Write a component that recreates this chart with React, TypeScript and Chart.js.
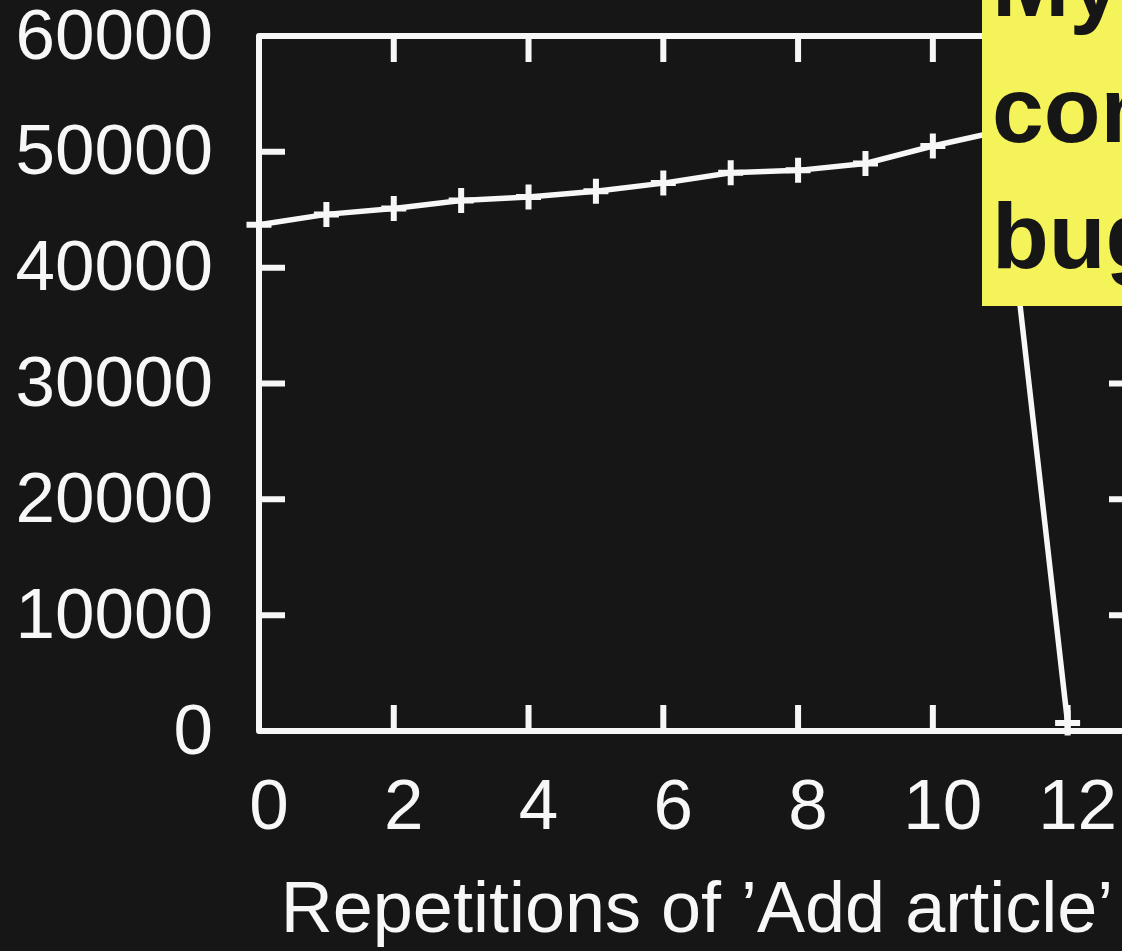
import React, { useEffect, useRef } from 'react';
import { Chart, registerables } from 'chart.js';

Chart.register(...registerables);

// ---- data ----
const repetitions = [0, 1, 2, 3, 4, 5, 6, 7, 8, 9, 10, 11, 12];
const memoryValues = [43700, 44600, 45100, 45800, 46100, 46600, 47300, 48200, 48400, 49000, 50500, 51800, 700];
const xAxisTitle = 'Repetitions of \u2019Add article\u2019';
const noteLines = ['My code', 'contains a', 'bug'];

// ---- style ----
const BG = '#161616';
const FG = '#f7f7f7';
const NOTE_BG = '#f5f35a';
const FONT = '"Liberation Sans", Arial, Helvetica, sans-serif';
const CW = 1300;
const CH = 951;
const PLOT_LEFT = 259;
const PLOT_TOP = 36;
const PLOT_RIGHT = 1135;
const PLOT_BOTTOM = 731;
const TICK = 26;
const LW = 6;

const framePlugin = {
  id: 'gnuframe',
  beforeDraw(chart: any) {
    const { ctx } = chart;
    ctx.save();
    ctx.fillStyle = BG;
    ctx.fillRect(0, 0, chart.width, chart.height);
    ctx.restore();
  },
  beforeDatasetsDraw(chart: any) {
    const { ctx, chartArea: a, scales } = chart;
    const xs = scales.x;
    const ys = scales.y;
    ctx.save();
    ctx.strokeStyle = FG;
    ctx.lineWidth = LW;
    ctx.lineJoin = 'round';
    ctx.lineCap = 'butt';
    ctx.strokeRect(a.left, a.top, a.right - a.left, a.bottom - a.top);
    ctx.beginPath();
    for (const t of ys.ticks) {
      const py = ys.getPixelForValue(t.value);
      ctx.moveTo(a.left, py);
      ctx.lineTo(a.left + TICK, py);
      ctx.moveTo(a.right - TICK, py);
      ctx.lineTo(a.right, py);
    }
    for (const t of xs.ticks) {
      const px = xs.getPixelForValue(t.value);
      ctx.moveTo(px, a.bottom);
      ctx.lineTo(px, a.bottom - TICK);
      ctx.moveTo(px, a.top);
      ctx.lineTo(px, a.top + TICK);
    }
    ctx.stroke();
    ctx.restore();
  },
  afterDatasetsDraw(chart: any) {
    const { ctx } = chart;
    ctx.save();
    ctx.fillStyle = NOTE_BG;
    ctx.fillRect(982, -10, chart.width - 982 + 10, 306 + 10);
    ctx.fillStyle = BG;
    ctx.font = `bold 93px ${FONT}`;
    ctx.textAlign = 'left';
    ctx.textBaseline = 'alphabetic';
    noteLines.forEach((t, i) => ctx.fillText(t, 992, 16 + i * 126));
    ctx.restore();
  },
};

export default function App() {
  const ref = useRef<HTMLCanvasElement | null>(null);
  useEffect(() => {
    if (!ref.current) return;
    const chart = new Chart(ref.current, {
      type: 'line',
      data: {
        datasets: [
          {
            data: repetitions.map((r, i) => ({ x: r, y: memoryValues[i] })),
            borderColor: FG,
            borderWidth: 5.5,
            pointStyle: 'cross',
            pointRadius: 12.5,
            pointBorderWidth: 6,
            pointBorderColor: FG,
            pointBackgroundColor: FG,
            tension: 0,
            clip: false as any,
          } as any,
        ],
      },
      options: {
        responsive: false,
        animation: false,
        devicePixelRatio: 1,
        events: [],
        layout: { padding: { left: 0, top: PLOT_TOP, right: CW - PLOT_RIGHT, bottom: 0 } },
        plugins: { legend: { display: false }, tooltip: { enabled: false } },
        scales: {
          x: {
            type: 'linear',
            min: 0,
            max: 13,
            grid: { display: false },
            border: { display: false },
            ticks: {
              stepSize: 2,
              includeBounds: false,
              autoSkip: false,
              maxRotation: 0,
              color: FG,
              font: { family: FONT, size: 71 },
              padding: 28,
              labelOffset: 10,
              callback: (v: any) => String(v),
            },
            title: {
              display: true,
              text: xAxisTitle,
              color: FG,
              font: { family: FONT, size: 72, lineHeight: 1 },
              padding: { top: 0, bottom: 3 },
            },
            afterFit(s: any) {
              s.height = CH - PLOT_BOTTOM;
              s.paddingLeft = 0;
              s.paddingRight = 0;
            },
          },
          y: {
            min: 0,
            max: 60000,
            grid: { display: false },
            border: { display: false },
            ticks: {
              stepSize: 10000,
              autoSkip: false,
              color: FG,
              font: { family: FONT, size: 71 },
              padding: 38,
              labelOffset: 3,
              callback: (v: any) => String(v),
            },
            afterFit(s: any) {
              s.width = PLOT_LEFT;
              s.paddingTop = 0;
              s.paddingBottom = 0;
            },
          },
        },
      } as any,
      plugins: [framePlugin],
    });
    return () => chart.destroy();
  }, []);

  return (
    <div
      style={{
        position: 'fixed',
        left: 0,
        top: 0,
        width: 1122,
        height: 951,
        overflow: 'hidden',
        background: BG,
      }}
    >
      <canvas ref={ref} width={CW} height={CH} style={{ display: 'block', width: CW, height: CH }} />
    </div>
  );
}
